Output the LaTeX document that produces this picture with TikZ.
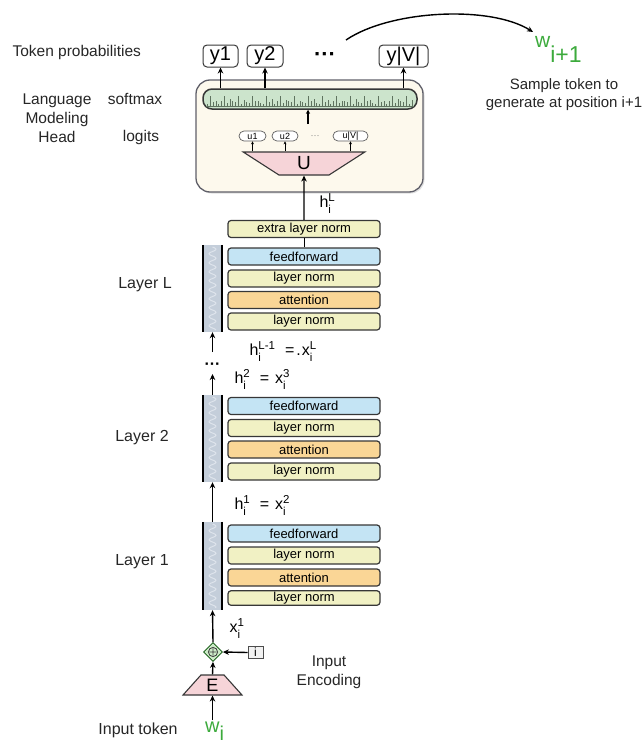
\documentclass[tikz,border=0pt]{standalone}
\usepackage{fontspec}
\setmainfont{Liberation Sans}
\usetikzlibrary{arrows.meta,shapes.geometric,shadows}

\definecolor{bd}{RGB}{55,55,55}
\definecolor{lnc}{RGB}{241,241,196}
\definecolor{ffc}{RGB}{196,228,244}
\definecolor{attc}{RGB}{250,214,150}
\definecolor{resc}{RGB}{196,206,218}
\definecolor{wavec}{RGB}{222,228,236}
\definecolor{smc}{RGB}{204,228,204}
\definecolor{histc}{RGB}{95,115,95}
\definecolor{pinkc}{RGB}{246,212,216}
\definecolor{headc}{RGB}{253,249,237}
\definecolor{headbd}{RGB}{95,95,105}
\definecolor{tokc}{RGB}{60,170,60}
\definecolor{plusc}{RGB}{205,235,200}

% letter with a stacked superscript and subscript
\newcommand\supsub[3]{#1\raisebox{-6pt}{\fontsize{11.5}{11.5}\selectfont
  \def\arraystretch{1.05}\begin{tabular}[b]{@{}l@{}}#2\\#3\end{tabular}}}
\newcommand\eqsign{\hspace{10pt}=\hspace{6pt}}

\begin{document}
\begin{tikzpicture}[x=1pt,y=-1pt,
  blk/.style={draw=bd, line width=1.2pt, rounded corners=3pt,
    minimum width=152pt, minimum height=17pt, inner sep=0pt,
    font=\fontsize{13}{13}\selectfont},
  lnbox/.style={blk, fill=lnc},
  ffbox/.style={blk, fill=ffc},
  attbox/.style={blk, fill=attc},
  rescol/.style={fill=resc, minimum width=19pt, inner sep=0pt},
  lbl/.style={font=\fontsize{15.5}{19}\selectfont, text=black!85},
  hlbl/.style={font=\fontsize{16}{18}\selectfont, anchor=west},
  arr/.style={-{Stealth[length=6pt,width=5.5pt]}, line width=1.4pt},
  tarr/.style={-{Stealth[length=3pt,width=3pt]}, line width=0.6pt},
  ybox/.style={draw=bd, line width=1pt, rounded corners=4pt,
    minimum height=22pt, inner sep=0pt, font=\fontsize{20}{20}\selectfont},
  ubox/.style={draw=bd!80, line width=0.7pt, rounded corners=5pt,
    minimum height=10pt, inner sep=0pt, fill=white, font=\fontsize{9}{9}\selectfont},
  trap/.style={trapezium, draw=bd, line width=1.1pt, fill=pinkc, inner sep=0pt,
    trapezium stretches=true}
]
\useasboundingbox (0,0) rectangle (643,744);

% ---------- language modeling head ----------
\node[draw=headbd, line width=1.3pt, fill=headc, rounded corners=14pt,
  minimum width=227pt, minimum height=112pt,
  drop shadow={opacity=0.25, shadow xshift=1.5pt, shadow yshift=-1.5pt}]
  (head) at (309.5,136) {};

\node[draw=bd, line width=1.5pt, fill=smc, rounded corners=9pt,
  minimum width=214pt, minimum height=20pt, inner sep=0pt] (sm) at (310,99) {};
\draw[histc, line width=0.5pt] (206,106) -- (414,106);
\foreach \k in {0,...,73}{
  \pgfmathsetmacro\hh{ifthenelse(mod(\k,5)==1, 10,
      ifthenelse(mod(\k,5)==3, 5+mod(\k,3), 2+mod(\k*3,4)))}
  \draw[histc, line width=0.7pt] (207.5+2.8*\k,106) -- ++(0,-\hh);
}

\node[ybox, minimum width=35pt] (y1) at (220.5,56) {y1};
\node[ybox, minimum width=36pt] (y2) at (265,56) {y2};
\node[font=\fontsize{22}{22}\selectfont\bfseries] (ydots) at (325,57) {···};
\node[ybox, minimum width=49pt] (yV) at (403.5,56) {y|V|};

\draw[arr] (y1.south |- sm.north) -- (y1.south);
\draw[arr] (y2.south |- sm.north) -- (y2.south);
\draw[arr] (yV.south |- sm.north) -- (yV.south);

\node[ubox, minimum width=27pt] (u1) at (252.5,136) {u1};
\node[ubox, minimum width=26pt] (u2) at (285,136) {u2};
\node[font=\fontsize{9}{9}\selectfont, text=black!50] (udots) at (315,137) {···};
\node[ubox, minimum width=35pt] (uV) at (350.5,136) {u|V|};

\coordinate (lgt) at (308,124);
\draw[-{Stealth[length=4pt,width=4pt]}, line width=1.1pt] (lgt) -- (lgt |- sm.south);

\node[trap, trapezium left angle=126.5, trapezium right angle=126.5,
  minimum width=122pt, minimum height=23pt,
  font=\fontsize{19}{19}\selectfont] (U) at (304,163.5) {U};

\draw[tarr] (u1.south |- U.north) -- (u1.south);
\draw[tarr] (u2.south |- U.north) -- (u2.south);
\draw[tarr] (uV.south |- U.north) -- (uV.south);

% ---------- transformer blocks ----------
\node[lnbox] (extra) at (304,229) {extra layer norm};

\node[ffbox]  (ffL)  at (304,256.5) {feedforward};
\node[lnbox]  (lnL2) at (304,278.5) {layer norm};
\node[attbox] (atL)  at (304,300) {attention};
\node[lnbox]  (lnL1) at (304,321.5) {layer norm};

\node[ffbox]  (ff2)  at (304,406) {feedforward};
\node[lnbox]  (ln22) at (304,428) {layer norm};
\node[attbox] (at2)  at (304,449.5) {attention};
\node[lnbox]  (ln21) at (304,471.5) {layer norm};

\node[ffbox]  (ff1)  at (304,533.5) {feedforward};
\node[lnbox]  (ln12) at (304,555.5) {layer norm};
\node[attbox] (at1)  at (304,577.5) {attention};
\node[lnbox, minimum height=14.5pt] (ln11) at (304,598) {layer norm};

% residual stream columns
\foreach \c/\yc/\hc in {colL/288.5/87, col2/438.5/87, col1/566/88}{
  \node[rescol, minimum height=\hc pt] (\c) at (212.5,\yc) {};
  \draw[wavec, line width=1pt]
    plot[domain=0:\hc-4, samples=90] ({212.5+3.5*sin(40*\x)},{\yc-\hc/2+2+\x});
  \draw[black, line width=2.2pt] (\c.north west) -- (\c.south west);
  \draw[black, line width=1.6pt] (\c.north east) -- (\c.south east);
}

% ---------- input encoding ----------
\node[trap, trapezium left angle=53, trapezium right angle=53,
  minimum width=59pt, minimum height=20pt,
  font=\fontsize{18}{18}\selectfont] (E) at (212.5,685) {E};
\node[diamond, draw=black!70!green, fill=plusc, line width=0.8pt,
  minimum size=19pt, inner sep=0pt] (plus) at (213,652) {};
\draw[black!75, line width=0.8pt] (plus.center) circle (4.6pt)
  (plus.center) ++(-3.3,0) -- ++(6.6,0) (plus.center) ++(0,-3.3) -- ++(0,6.6);
\node[draw=black!70, fill=black!5, line width=0.8pt, minimum width=15pt,
  minimum height=12pt, inner sep=0pt, font=\fontsize{12}{12}\selectfont] (pos) at (255.5,652.5) {i};

\node[text=tokc, anchor=base west, inner sep=1pt] (wi) at (204,732)
  {\fontsize{20}{20}\selectfont w\raisebox{-8pt}{i}};

% ---------- connectors ----------
\draw[arr] (wi.north -| E.south) -- (E.south);
\draw[arr] (E.north) -- (plus.south);
\draw[arr] (pos.west) -- (plus.east);
\draw[arr] (plus.north) -- (col1.south);
\draw[arr] (col1.north) -- (col2.south);
\coordinate (d2) at (212.5,374);
\coordinate (d3) at (212.5,352);
\draw[arr] (col2.north) -- (d2);
\node[font=\fontsize{16}{16}\selectfont\bfseries] (vdots) at (212.5,366) {···};
\draw[arr] (d3) -- (colL.south);
\draw[line width=1pt] (ffL.north) -- (extra.south);
\draw[arr] (extra.north) -- (U.south);

% state labels
\node[hlbl] (hL) at (316,205) {\supsub{h}{L}{i}};
\node[hlbl] (hL1) at (246,353) {\supsub{h}{L-1}{i}\hspace{10pt}=\hspace{2pt}.\hspace{1pt}\supsub{x}{L}{i}};
\node[hlbl] (h2) at (231,381) {\supsub{h}{2}{i}\eqsign\supsub{x}{3}{i}};
\node[hlbl] (h1) at (231,507) {\supsub{h}{1}{i}\eqsign\supsub{x}{2}{i}};
\node[hlbl] (x1) at (226,630) {\supsub{x}{1}{i}};

% ---------- side labels ----------
\node[lbl, anchor=west] (tp) at (9,52) {Token probabilities};
\node[lbl, align=center] (lmh) at (57,118) {Language\\Modeling\\Head};
\node[lbl] (smx) at (135,99) {softmax};
\node[lbl] (lgts) at (141,137) {logits};
\node[lbl, font=\fontsize{16}{19}\selectfont] (lyL) at (145,285) {Layer L};
\node[lbl, font=\fontsize{16}{19}\selectfont] (ly2) at (142,438) {Layer 2};
\node[lbl, font=\fontsize{16}{19}\selectfont] (ly1) at (142,562) {Layer 1};
\node[lbl, align=center] (ienc) at (329,672) {Input\\Encoding};
\node[lbl, font=\fontsize{16}{19}\selectfont] (itok) at (138,730) {Input token};

% ---------- sampled token ----------
\node[text=tokc, anchor=base west, inner sep=1pt] (wn) at (534,47)
  {\fontsize{21}{21}\selectfont w\raisebox{-15pt}{\fontsize{23}{23}\selectfont i+1}};
\node[lbl, align=center, font=\fontsize{15}{18}\selectfont] (samp) at (564,95)
  {Sample token to\\generate at position i+1};
\coordinate (arcs) at (346,40);
\coordinate (arce) at (533,32);
\draw[arr] (arcs) .. controls (390,10) and (490,5) .. (arce);
\end{tikzpicture}
\end{document}
